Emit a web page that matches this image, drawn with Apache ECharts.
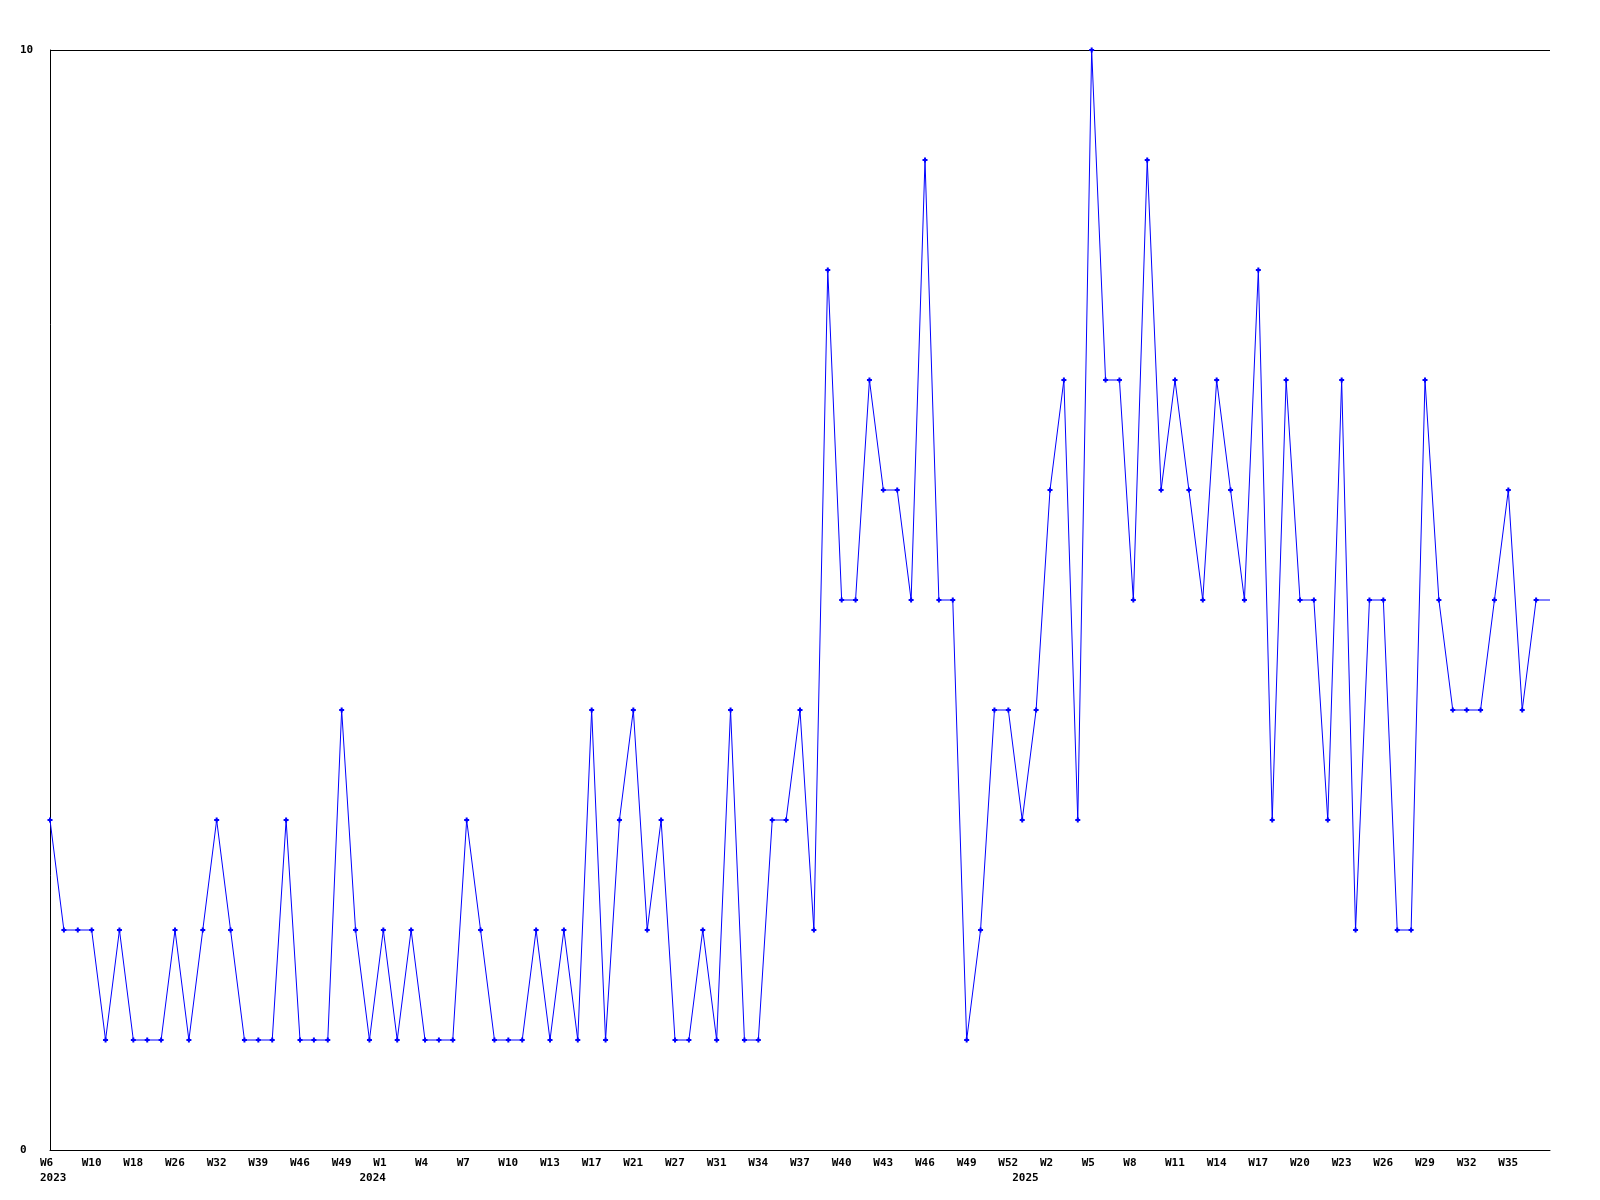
<!DOCTYPE html>
<html>
<head>
<meta charset="utf-8">
<script src="https://cdn.jsdelivr.net/npm/echarts@6/dist/echarts.min.js"></script>
<style>
  html, body { margin: 0; padding: 0; background: #ffffff; }
  #chart { width: 1600px; height: 1200px; }
</style>
</head>
<body>
<div id="chart"></div>
<script>
// Tick labels shown every third point
const tickLabels = ['W6','W10','W18','W26','W32','W39','W46','W49','W1','W4','W7','W10',
  'W13','W17','W21','W27','W31','W34','W37','W40','W43','W46','W49','W52',
  'W2','W5','W8','W11','W14','W17','W20','W23','W26','W29','W32','W35'];
const tickStep = 3;
// Year labels and the point index they sit under
const yearIndex = [0, 23, 70];
const yearLabels = ['2023', '2024', '2025'];
// Series values, one per week point
const values = [
  3,2,2,2,1,2,1,1,1,2,
  1,2,3,2,1,1,1,3,1,1,
  1,4,2,1,2,1,2,1,1,1,
  3,2,1,1,1,2,1,2,1,4,
  1,3,4,2,3,1,1,2,1,4,
  1,1,3,3,4,2,8,5,5,7,
  6,6,5,9,5,5,1,2,4,4,
  3,4,6,7,3,10,7,7,5,9,
  6,7,6,5,7,6,5,8,3,7,
  5,5,3,7,2,5,5,2,2,7,
  5,4,4,4,5,6,4,5,5
];
const yMin = 0, yMax = 10;

const cats = values.map((_, i) => String(i));
const lastIdx = values.length - 1;
const seriesData = values.map((v, i) => i === lastIdx ? { value: v, symbol: 'none' } : v);

const font = { fontFamily: 'DejaVu Sans Mono', fontWeight: 'bold', fontSize: 11, color: '#000' };

const chart = echarts.init(document.getElementById('chart'), null, { renderer: 'canvas' });
chart.setOption({
  animation: false,
  backgroundColor: '#ffffff',
  grid: { left: 50, right: 50, top: 50, bottom: 50, containLabel: false },
  xAxis: [
    {
      type: 'category', data: cats, boundaryGap: false, position: 'bottom',
      axisLine: { show: true, lineStyle: { color: '#000', width: 1 } },
      axisTick: { show: false },
      splitLine: { show: false },
      axisLabel: Object.assign({}, font, {
        interval: 0, margin: 8, align: 'left', padding: [0, 0, 0, -10],
        formatter: (v, i) => (i % tickStep === 0 && tickLabels[i / tickStep] !== undefined) ? tickLabels[i / tickStep] : ''
      })
    },
    {
      type: 'category', data: cats, boundaryGap: false, position: 'bottom',
      axisLine: { show: false }, axisTick: { show: false }, splitLine: { show: false },
      axisLabel: Object.assign({}, font, {
        interval: 0, margin: 23, align: 'left', padding: [0, 0, 0, -10],
        formatter: (v, i) => { const k = yearIndex.indexOf(i); return k >= 0 ? yearLabels[k] : ''; }
      })
    }
  ],
  yAxis: {
    type: 'value', min: yMin, max: yMax, interval: 10,
    axisLine: { show: true, lineStyle: { color: '#000', width: 1 } },
    axisTick: { show: false },
    splitLine: { show: true, lineStyle: { color: '#000', width: 1 } },
    axisLabel: Object.assign({}, font, { align: 'left', margin: 30 })
  },
  series: [{
    type: 'line', xAxisIndex: 0, data: seriesData,
    symbol: 'path://M1.5 0H3.5V1.5H5V3.5H3.5V5H1.5V3.5H0V1.5H1.5Z', symbolSize: 5, showAllSymbol: true,
    lineStyle: { color: '#0000ff', width: 1 },
    itemStyle: { color: '#0000ff' }
  }]
});
</script>
</body>
</html>
